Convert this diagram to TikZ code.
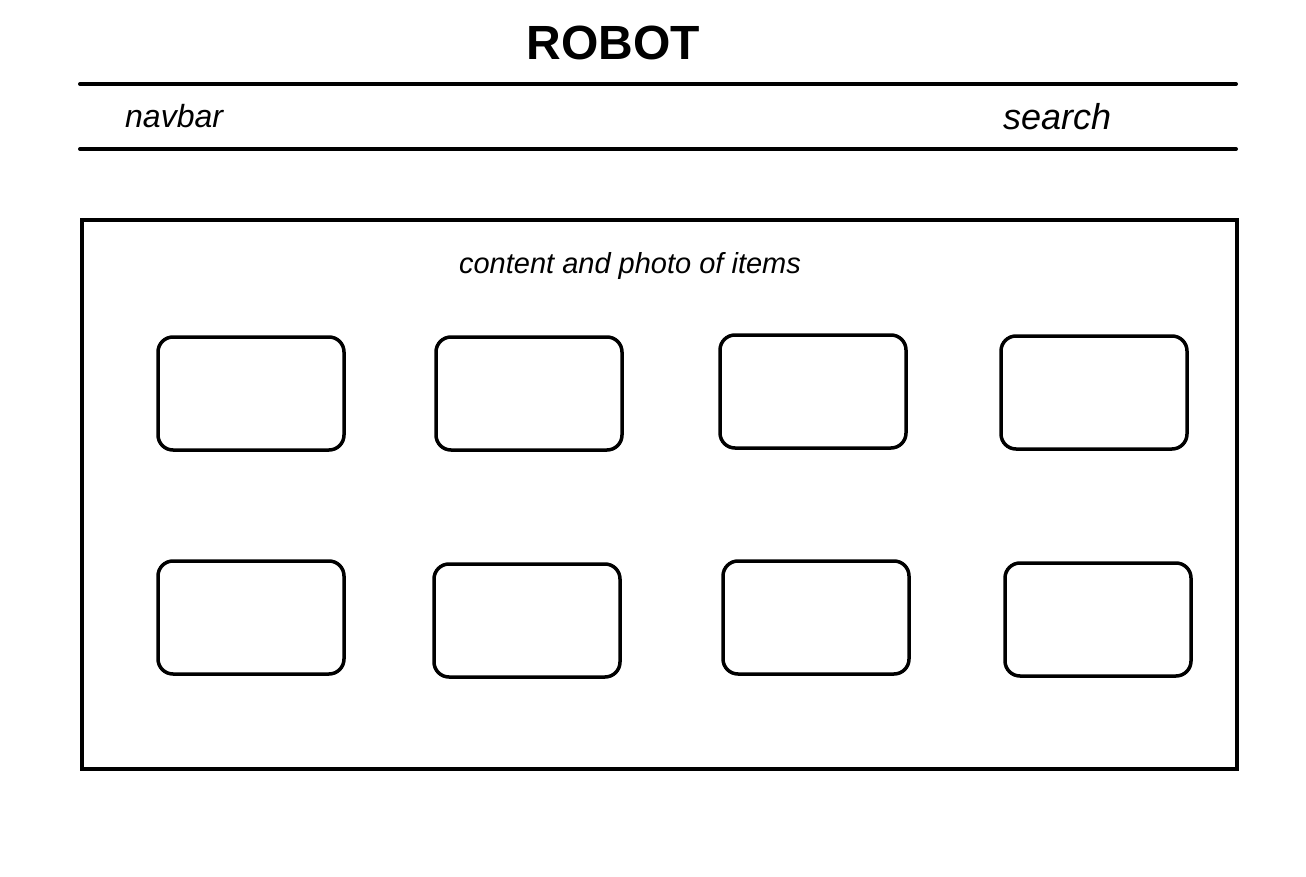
\documentclass[tikz,border=0pt]{standalone}
\usepackage{fontspec}
\setmainfont{Liberation Sans}
\begin{document}
\begin{tikzpicture}[x=1pt,y=-1pt,
  frame/.style={draw=black,line width=4pt},
  rule/.style={draw=black,line width=4pt,line cap=round},
  item/.style={draw=black,line width=3.5pt,rounded corners=15pt},
  lbl/.style={inner sep=0pt,font=\itshape}]
\useasboundingbox (0,0) rectangle (1306,877);
\fill[white] (0,0) rectangle (1306,877);
\node[inner sep=0pt,font=\bfseries\fontsize{48}{56}\selectfont,anchor=base] (title) at (613,60) {ROBOT};
\coordinate (l1a) at (80,84); \coordinate (l1b) at (1236,84);
\coordinate (l2a) at (80,149); \coordinate (l2b) at (1236,149);
\draw[rule] (l1a) -- (l1b);
\draw[rule] (l2a) -- (l2b);
\node[lbl,font=\itshape\fontsize{32}{38}\selectfont,anchor=base west] (nav) at (125,128) {navbar};
\node[lbl,font=\itshape\fontsize{36}{42}\selectfont,anchor=base west] (search) at (1003,130) {search};
\draw[frame] (82,220) rectangle (1237,769);
\node[lbl,font=\itshape\fontsize{29}{34}\selectfont,anchor=base] (content) at (630,273) {content and photo of items};
\draw[item] (158,337) rectangle (344,450);
\draw[item] (436,337) rectangle (622,450);
\draw[item] (720,335) rectangle (906,448);
\draw[item] (1001,336) rectangle (1187,449);
\draw[item] (158,561) rectangle (344,674);
\draw[item] (434,564) rectangle (620,677);
\draw[item] (723,561) rectangle (909,674);
\draw[item] (1005,563) rectangle (1191,676);
\end{tikzpicture}
\end{document}
